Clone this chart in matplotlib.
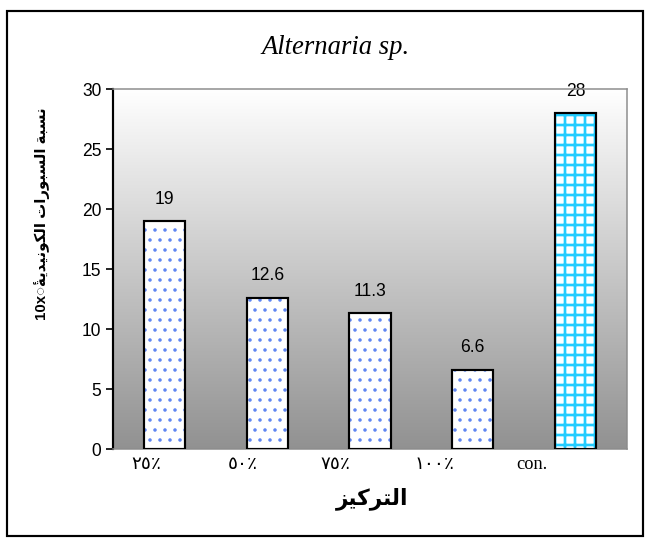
import matplotlib
matplotlib.use("Agg")
import matplotlib.pyplot as plt
import matplotlib.transforms as mtransforms
from matplotlib.patches import Rectangle
import numpy as np

# Data
categories = ['\u0662\u0665\u066A', '\u0665\u0660\u066A', '\u0667\u0665\u066A',
              '\u0661\u0660\u0660\u066A', 'con.']
values = [19, 12.6, 11.3, 6.6, 28]
value_labels = ['19', '12.6', '11.3', '6.6', '28']

# Arabic text written in visual order with presentation forms (no shaping in matplotlib)
ylabel_text = ('10x' + '\u25CC\u0654'
               + '\uFE94\uFEF3\uFEAA\uFEF4\uFEE7\uFEEE\uFEDC\uFEDF\uFE8D' + ' '
               + '\uFE95\uFE8D\uFEAD\uFEEE\uFE92\uFEB4\uFEDF\uFE8D' + ' '
               + '\uFE94\uFE92\uFEB4\uFEE7')
xlabel_text = '\uFEB0\uFEF4\uFEDB\uFEAE\uFE98\uFEDF\uFE8D'
title_text = 'Alternaria sp.'

hatches = ['..', '..', '..', '..', '++']
hatch_colors = ['#5f86f2', '#5f86f2', '#5f86f2', '#5f86f2', '#22ccff']
hatch_widths = [0.9, 0.9, 0.9, 0.9, 1.6]

fig = plt.figure(figsize=(5.4, 4.5), dpi=120)
ax = fig.add_axes([113 / 648, 91 / 540, 514 / 648, 360 / 540])

# gradient background of the plot area
grad = np.linspace(1.0, 0.57, 256).reshape(-1, 1)
ax.imshow(np.dstack([grad, grad, grad]), extent=[0, 1, 0, 1], transform=ax.transAxes,
          aspect='auto', zorder=0, interpolation='bilinear')

x = np.arange(len(values))
for xi, v, h, c, hw in zip(x, values, hatches, hatch_colors, hatch_widths):
    with plt.rc_context({'hatch.linewidth': hw}):
        ax.bar(xi, v, width=0.4, color='white', edgecolor=c, hatch=h, linewidth=0, zorder=2)
ax.bar(x, values, width=0.4, fill=False, edgecolor='black', linewidth=1.3, zorder=3)

for xi, v, lab in zip(x, values, value_labels):
    ax.annotate(lab, (xi, v), xytext=(0, 8), textcoords='offset points',
                ha='center', va='bottom', fontsize=10.5, family='Liberation Sans',
                annotation_clip=False, zorder=1)

ax.set_xlim(-0.5, 4.5)
ax.set_ylim(0, 30)
ax.set_yticks(range(0, 31, 5))
ax.tick_params(axis='y', labelsize=10.5, length=4, width=1, pad=3)
for t in ax.get_yticklabels():
    t.set_family('Liberation Sans')

ax.set_xticks(x)
ax.set_xticklabels(categories, family=['Liberation Serif', 'DejaVu Sans'], fontsize=11)
ax.tick_params(axis='x', length=0, pad=4)
shifts = [-11, -14.5, -21, -23, -26]
for t, dx in zip(ax.get_xticklabels(), shifts):
    t.set_transform(t.get_transform() + mtransforms.ScaledTranslation(dx / 72, 0, fig.dpi_scale_trans))

for side in ['top', 'right', 'bottom']:
    ax.spines[side].set_color('#8c8c8c')
    ax.spines[side].set_linewidth(0.9)
ax.spines['left'].set_color('black')
ax.spines['left'].set_linewidth(1.3)

fig.text(336 / 648, 1 - 47 / 540, title_text, ha='center', va='center',
         fontsize=16, style='italic', family='Liberation Serif')
fig.text(372 / 648, 1 - 499 / 540, xlabel_text, ha='center', va='center',
         fontsize=13, weight='bold', family='DejaVu Sans')
fig.text(42 / 648, 1 - 214 / 540, ylabel_text, ha='center', va='center', rotation=90,
         fontsize=9, weight='bold', family=['Liberation Sans', 'DejaVu Sans'])

# outer frame around the chart
fig.patches.append(Rectangle((7 / 648, 1 - 536 / 540), 636 / 648, 525 / 540,
                             transform=fig.transFigure, fill=False,
                             edgecolor='black', linewidth=1.3))

fig.savefig('out.png', dpi=120)
